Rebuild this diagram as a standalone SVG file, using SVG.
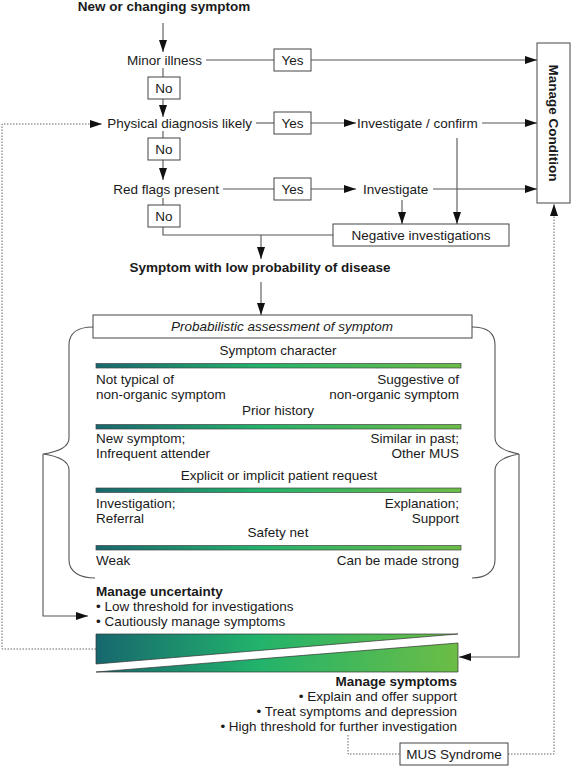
<svg xmlns="http://www.w3.org/2000/svg" width="571" height="766" viewBox="0 0 571 766">
<style>
text{font-family:"Liberation Sans",Arial,sans-serif;font-size:13.5px;fill:#1a1a1a}
.b{font-weight:bold}
.i{font-style:italic}
.m{text-anchor:middle}
.e{text-anchor:end}
.box{fill:#fff;stroke:#444;stroke-width:1}
.ln{fill:none;stroke:#555;stroke-width:1.1}
.dot{fill:none;stroke:#666;stroke-width:1;stroke-dasharray:1.5 1.5}
.bar{fill:url(#g);stroke:#444;stroke-width:0.7}
</style>
<defs>
<linearGradient id="g" x1="0" y1="0" x2="1" y2="0">
<stop offset="0" stop-color="#17676e"/>
<stop offset="0.45" stop-color="#22b36b"/>
<stop offset="1" stop-color="#6cbd45"/>
</linearGradient>
<linearGradient id="gw" gradientUnits="userSpaceOnUse" x1="96" y1="0" x2="458" y2="0">
<stop offset="0" stop-color="#17676e"/>
<stop offset="0.45" stop-color="#22b36b"/>
<stop offset="1" stop-color="#6cbd45"/>
</linearGradient>
<marker id="ah" viewBox="0 0 12 8" refX="12" refY="4" markerWidth="12" markerHeight="8" orient="auto" markerUnits="userSpaceOnUse">
<path d="M0,0 L12,4 L0,8 z" fill="#111"/>
</marker>
</defs>

<g id="connectors">
<line class="ln" x1="163" y1="23" x2="163" y2="52" marker-end="url(#ah)"/>
<line class="ln" x1="206" y1="60" x2="274" y2="60"/>
<line class="ln" x1="311" y1="60" x2="537" y2="60" marker-end="url(#ah)"/>
<line class="ln" x1="163" y1="68" x2="163" y2="77"/>
<line class="ln" x1="163" y1="99" x2="163" y2="117" marker-end="url(#ah)"/>
<line class="ln" x1="256" y1="123" x2="274" y2="123"/>
<line class="ln" x1="311" y1="123" x2="356" y2="123" marker-end="url(#ah)"/>
<line class="ln" x1="482" y1="123" x2="537" y2="123" marker-end="url(#ah)"/>
<line class="ln" x1="163" y1="131" x2="163" y2="138"/>
<line class="ln" x1="163" y1="160" x2="163" y2="180" marker-end="url(#ah)"/>
<line class="ln" x1="223" y1="189" x2="274" y2="189"/>
<line class="ln" x1="311" y1="189" x2="356" y2="189" marker-end="url(#ah)"/>
<line class="ln" x1="433" y1="189" x2="537" y2="189" marker-end="url(#ah)"/>
<line class="ln" x1="163" y1="198" x2="163" y2="205"/>
<polyline class="ln" points="163,227 163,235 333,235"/>
<line class="ln" x1="261" y1="235" x2="261" y2="259" marker-end="url(#ah)"/>
<line class="ln" x1="402" y1="200" x2="402" y2="224" marker-end="url(#ah)"/>
<line class="ln" x1="457" y1="138" x2="457" y2="224" marker-end="url(#ah)"/>
<line class="ln" x1="261" y1="282" x2="261" y2="315" marker-end="url(#ah)"/>
<path class="ln" d="M93,327 C78,327 69,333 69,345 L69,438 C69,447 57,452 43,454 C57,456 69,461 69,470 L69,560 C69,572 80,578 95,578"/>
<path class="ln" d="M472,327 C487,327 495,333 495,345 L495,438 C495,447 507,452 519,454 C507,456 495,461 495,470 L495,560 C495,572 485,578 472,578"/>
<polyline class="ln" points="43,454 43,616 88,616" marker-end="url(#ah)"/>
<polyline class="ln" points="519,454 519,657 459,657" marker-end="url(#ah)"/>
<polyline class="dot" points="96,649 2,649 2,124 102,124" marker-end="url(#ah)"/>
<polyline class="dot" points="348,735 348,754 400,754"/>
<polyline class="dot" points="508,754 554,754 554,204" marker-end="url(#ah)"/>
</g>

<g id="n-title"><text class="b m" x="164" y="11">New or changing symptom</text></g>
<g id="n-minor"><text class="e" x="202" y="65">Minor illness</text></g>
<g id="n-yes1"><rect class="box" x="274" y="49" width="37" height="22"/><text class="m" x="292.5" y="65">Yes</text></g>
<g id="n-no1"><rect class="box" x="148" y="77" width="32" height="22"/><text class="m" x="164" y="93">No</text></g>
<g id="n-physical"><text class="e" x="252" y="128">Physical diagnosis likely</text></g>
<g id="n-yes2"><rect class="box" x="274" y="112" width="37" height="22"/><text class="m" x="292.5" y="128">Yes</text></g>
<g id="n-invconf"><text x="357" y="128">Investigate / confirm</text></g>
<g id="n-no2"><rect class="box" x="148" y="138" width="32" height="22"/><text class="m" x="164" y="154">No</text></g>
<g id="n-redflags"><text class="e" x="219" y="194">Red flags present</text></g>
<g id="n-yes3"><rect class="box" x="274" y="178" width="37" height="22"/><text class="m" x="292.5" y="194">Yes</text></g>
<g id="n-invest"><text x="363" y="194">Investigate</text></g>
<g id="n-no3"><rect class="box" x="148" y="205" width="32" height="22"/><text class="m" x="164" y="221">No</text></g>
<g id="n-neg"><rect class="box" x="333" y="224" width="176" height="22"/><text class="m" x="421" y="240">Negative investigations</text></g>
<g id="n-manage-condition"><rect class="box" x="537" y="43" width="33" height="160"/><text class="b m" transform="translate(549,123) rotate(90)" x="0" y="0">Manage Condition</text></g>
<g id="n-lowprob"><text class="b m" x="260" y="272">Symptom with low probability of disease</text></g>
<g id="n-prob"><rect class="box" x="93" y="315" width="379" height="23"/><text class="i m" x="282" y="331">Probabilistic assessment of symptom</text></g>

<g id="n-scales">
<text class="m" x="278" y="355">Symptom character</text>
<rect class="bar" x="96" y="363.5" width="365" height="4.5"/>
<text x="96" y="384">Not typical of</text>
<text x="96" y="399">non-organic symptom</text>
<text class="e" x="459" y="384">Suggestive of</text>
<text class="e" x="459" y="399">non-organic symptom</text>
<text class="m" x="278" y="415">Prior history</text>
<rect class="bar" x="96" y="424.5" width="365" height="4.5"/>
<text x="96" y="443">New symptom;</text>
<text x="96" y="458">Infrequent attender</text>
<text class="e" x="459" y="443">Similar in past;</text>
<text class="e" x="459" y="458">Other MUS</text>
<text class="m" x="279" y="480">Explicit or implicit patient request</text>
<rect class="bar" x="96" y="488" width="365" height="4.5"/>
<text x="96" y="508">Investigation;</text>
<text x="96" y="523">Referral</text>
<text class="e" x="459" y="508">Explanation;</text>
<text class="e" x="459" y="523">Support</text>
<text class="m" x="278" y="537">Safety net</text>
<rect class="bar" x="96" y="545.5" width="365" height="4.5"/>
<text x="96" y="565">Weak</text>
<text class="e" x="459" y="565">Can be made strong</text>
</g>

<g id="n-uncertainty">
<text class="b" x="96" y="596">Manage uncertainty</text>
<text x="96" y="611">• Low threshold for investigations</text>
<text x="96" y="626">• Cautiously manage symptoms</text>
</g>

<g id="n-wedges">
<polygon points="96,634 458,634 96,664" fill="url(#gw)" stroke="#333" stroke-width="0.7"/>
<polygon points="96,672 458,643 458,672" fill="url(#gw)" stroke="#333" stroke-width="0.7"/>
</g>

<g id="n-manage-symptoms">
<text class="b e" x="457" y="686">Manage symptoms</text>
<text class="e" x="457" y="701">• Explain and offer support</text>
<text class="e" x="457" y="716">• Treat symptoms and depression</text>
<text class="e" x="457" y="731">• High threshold for further investigation</text>
</g>

<g id="n-mus"><rect class="box" x="400" y="743" width="108" height="22"/><text class="m" x="454" y="759">MUS Syndrome</text></g>
</svg>
